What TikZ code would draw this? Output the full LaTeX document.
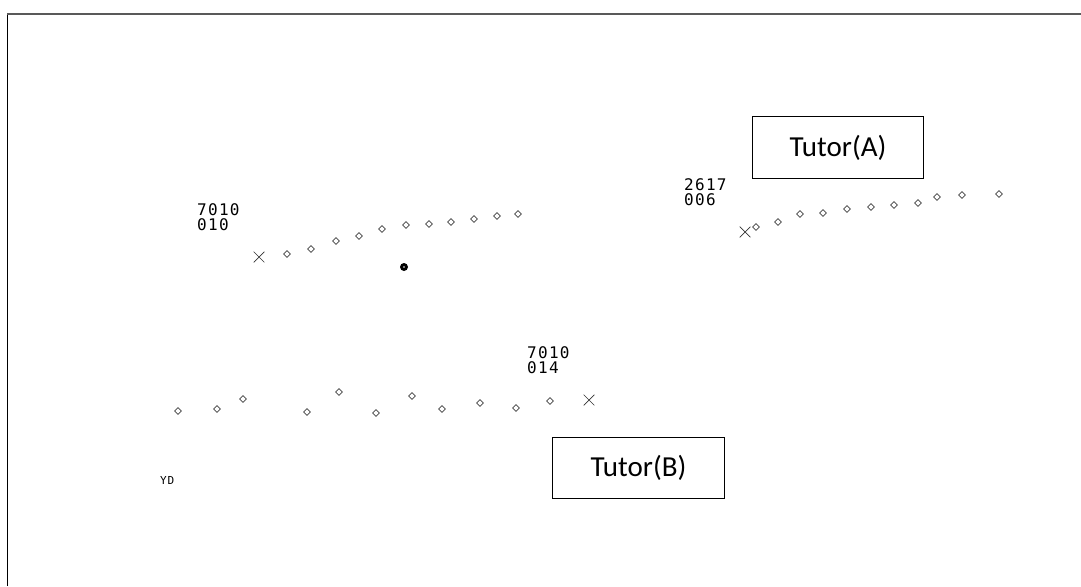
\documentclass[tikz,border=0pt]{standalone}
\usepackage{fontspec}
\setmainfont{Carlito}
\newfontfamily\radarfont[LetterSpace=8]{DejaVu Sans Mono}
\usetikzlibrary{shapes.geometric,shapes.misc}
\tikzset{
  plot/.style={diamond,draw=black!75,line width=0.6pt,inner sep=0pt,minimum size=7pt},
  target/.style={cross out,draw=black!80,line width=0.7pt,inner sep=0pt,minimum size=10pt},
  tag/.style={font=\radarfont\fontsize{16}{15}\selectfont,align=left,inner sep=0pt,anchor=north west},
  tutor/.style={draw,line width=1pt,font=\fontsize{29}{30}\selectfont,inner sep=0pt,anchor=north west}
}
\begin{document}
\begin{tikzpicture}[x=1pt,y=-1pt]
\useasboundingbox (0,0) rectangle (1081,586);
% screen frame
\coordinate (fl) at (7,586);
\coordinate (fc) at (7,14);
\coordinate (fr) at (1081,14);
\draw[black, line width=1pt] (fl) -- (fc);
\draw[black!65, line width=2pt] (fc) -- (fr);

% track 7010 / 010
\node[tag] (t1) at (197,203) {7010\\010};
\node[target] (x1) at (259,257) {};
\foreach \i/\x/\y in {1/287/254,2/311/249,3/336/241,4/359/236,5/382/229,6/406/225,7/429/224,8/451/222,9/474/219,10/497/216,11/518/214}
  \node[plot] (a\i) at (\x,\y) {};
\fill[black] (404,267) circle (4);
\fill[white] (404,267) circle (0.9);

% track 2617 / 006
\node[tag] (t2) at (684,178) {2617\\006};
\node[target] (x2) at (745,232) {};
\foreach \i/\x/\y in {1/756/227,2/778/222,3/800/214,4/823/213,5/847/209,6/871/207,7/894/205,8/918/203,9/937/197,10/962/195,11/999/194}
  \node[plot] (b\i) at (\x,\y) {};

% track 7010 / 014
\node[tag] (t3) at (527,346) {7010\\014};
\node[target] (x3) at (589,400) {};
\foreach \i/\x/\y in {1/178/411,2/217/409,3/243/399,4/307/412,5/339/392,6/376/413,7/412/396,8/442/409,9/480/403,10/516/408,11/550/401}
  \node[plot] (c\i) at (\x,\y) {};

% ground label
\node[font=\radarfont\fontsize{11}{11}\selectfont,inner sep=0pt,anchor=west] (yd) at (160,480) {YD};

% tutor labels
\node[tutor,minimum width=171pt,minimum height=62pt] (ta) at (752,116) {Tutor(A)};
\node[tutor,minimum width=172pt,minimum height=61pt] (tb) at (552,437) {Tutor(B)};
\end{tikzpicture}
\end{document}
